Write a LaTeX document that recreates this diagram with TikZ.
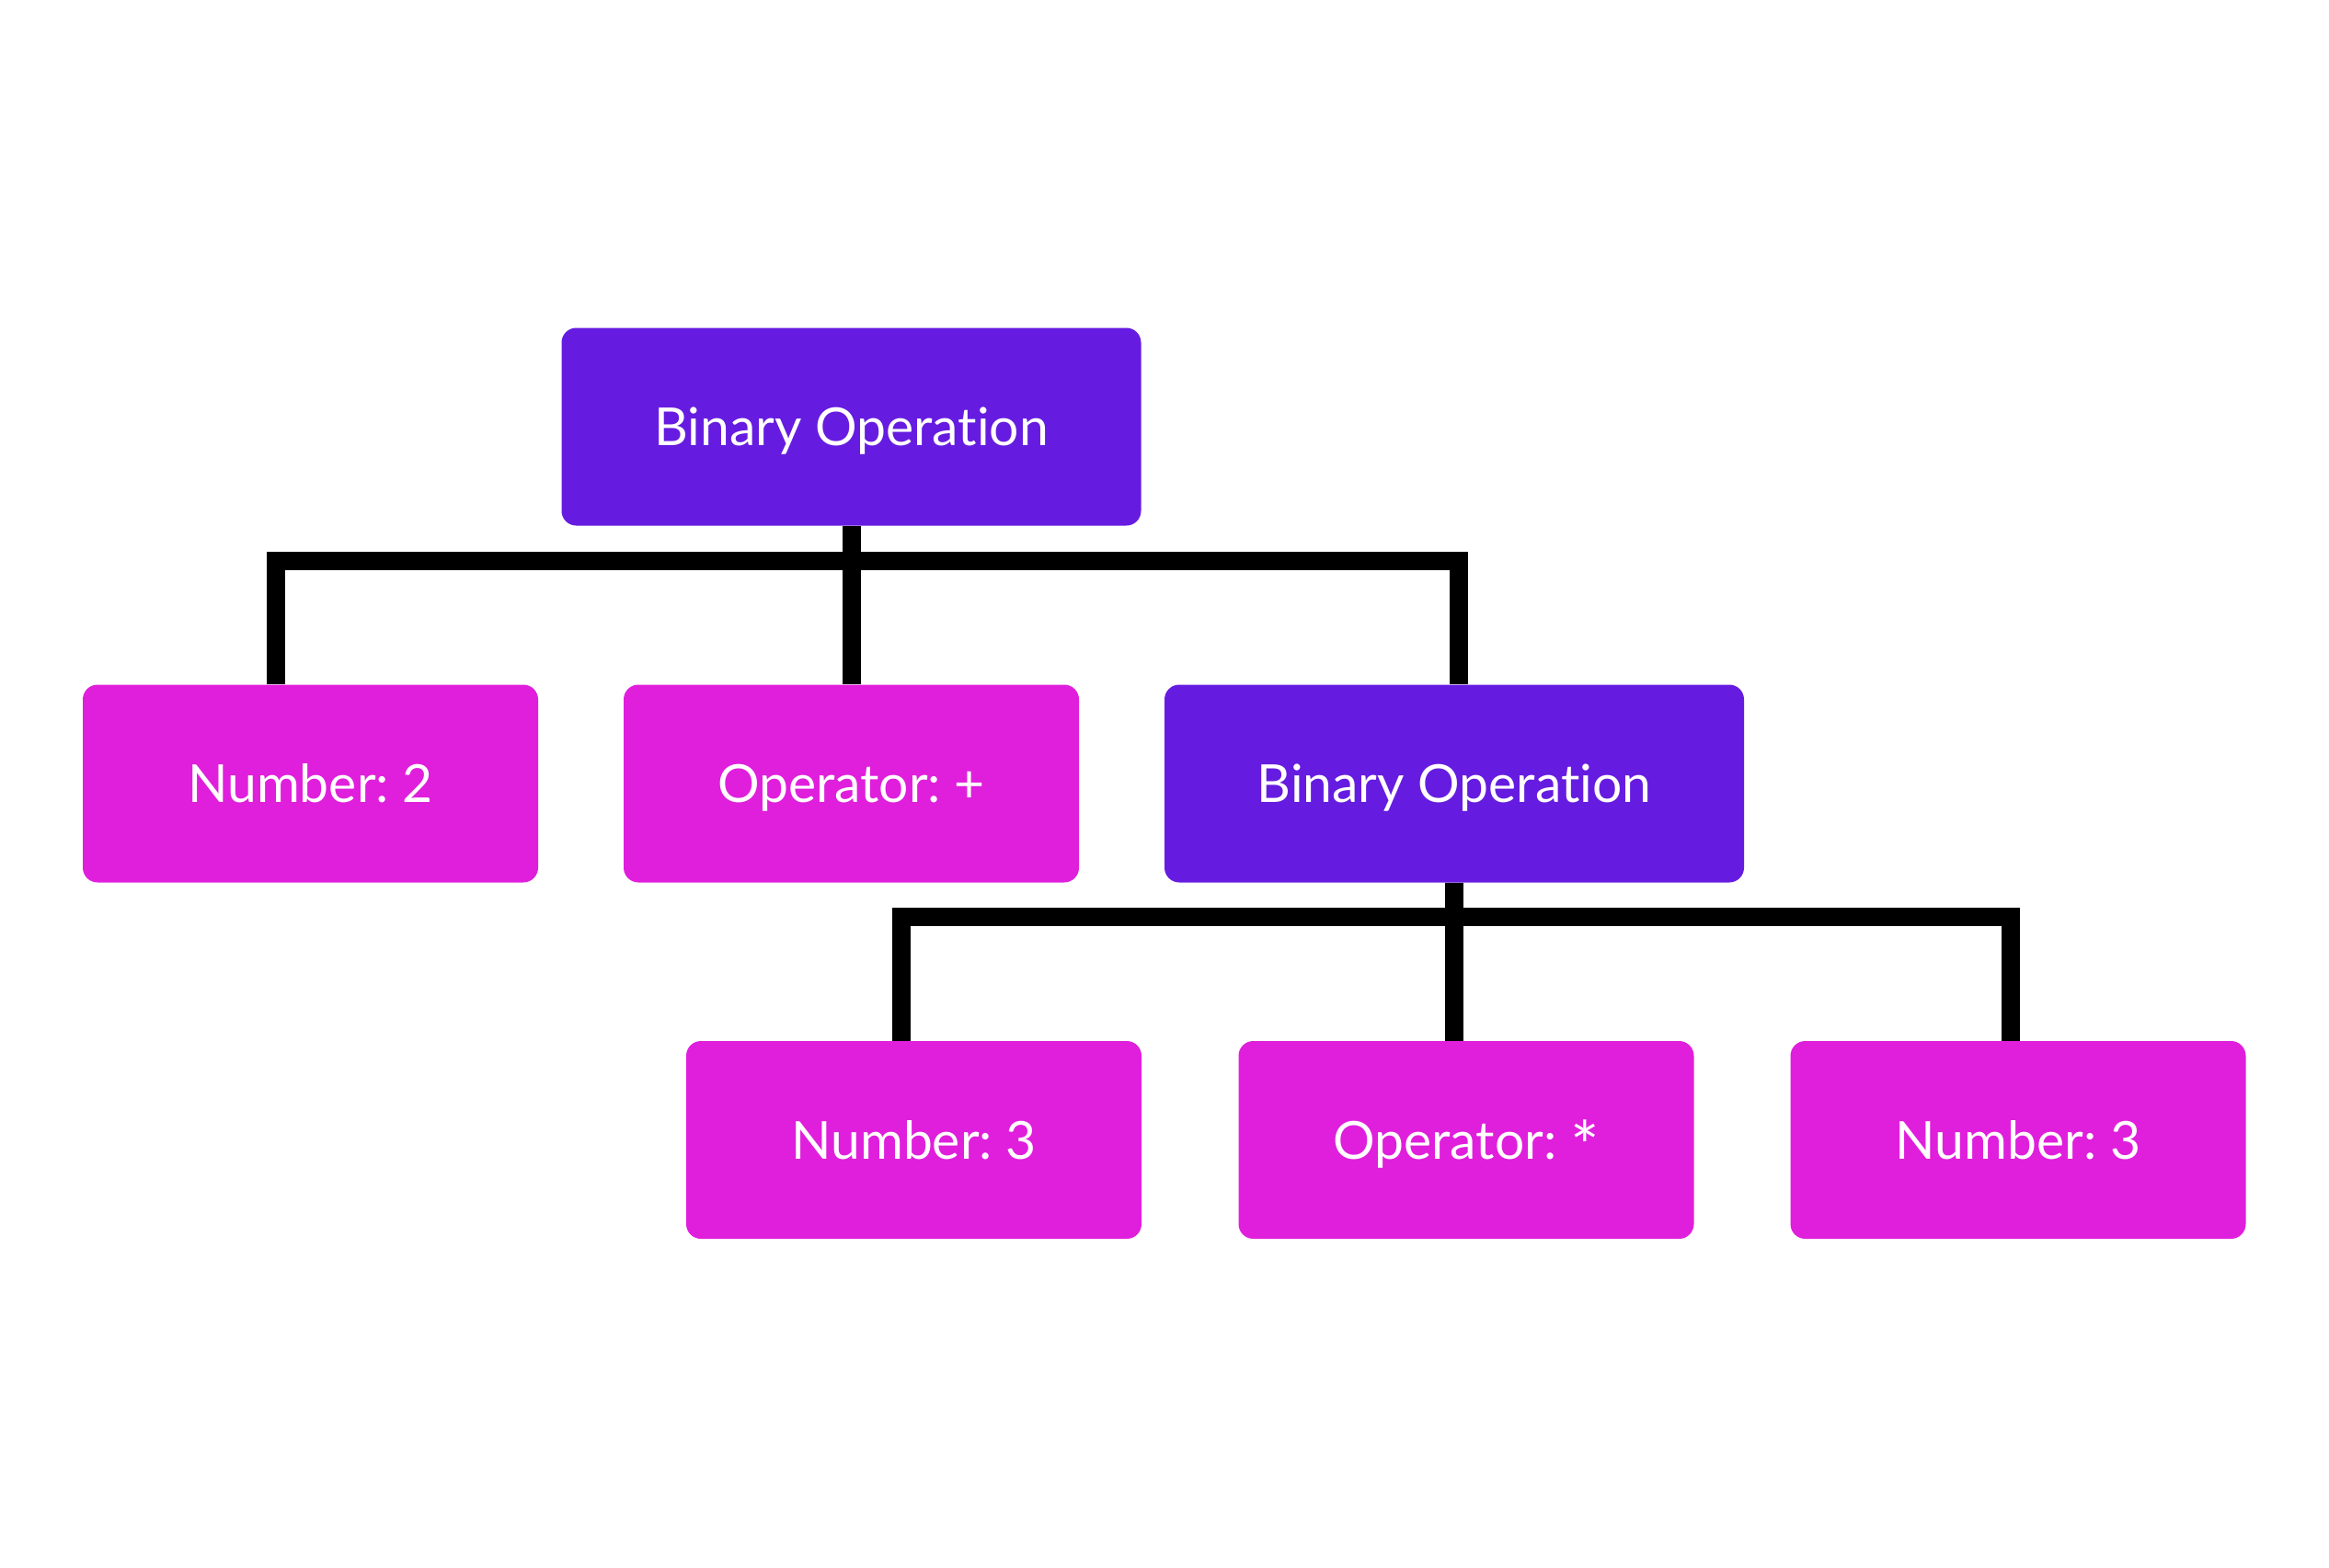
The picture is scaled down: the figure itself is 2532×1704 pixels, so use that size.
\documentclass[tikz,border=0pt]{standalone}
\usepackage{fontspec}
\setmainfont{Lato}[Ligatures={NoCommon}]
\definecolor{binop}{RGB}{102,28,224}
\definecolor{leaf}{RGB}{224,31,220}
\newcommand{\midast}{\raisebox{-0.45ex}{\scalebox{1.3}{*}}}
\begin{document}
\begin{tikzpicture}[x=0.5pt,y=-0.5pt,
  box/.style={rectangle,rounded corners=8pt,inner sep=0pt,text=white,
    font=\fontsize{28.5}{34}\selectfont,minimum height=107.5pt,
    text height=20.5pt,text depth=0pt},
  opbox/.style={box,fill=binop,minimum width=315pt},
  leafbox/.style={box,fill=leaf,minimum width=247.5pt},
  conn/.style={draw=black,line width=10pt,line join=miter,line cap=butt}]
\useasboundingbox[fill=white] (0,0) rectangle (2532,1704);
\node[opbox] (b1) at (925.5,464) {Binary Operation};
\node[leafbox] (n2) at (337.5,852) {Number:\kern-0.08em{} 2};
\node[leafbox] (o1) at (925.5,852) {Operator:\kern-0.08em{} +};
\node[opbox] (b2) at (1581,852) {Binary Operation};
\node[leafbox] (n3a) at (993.5,1239.5) {Number:\kern-0.08em{} 3};
\node[leafbox] (o2) at (1594,1239.5) {Operator:\kern-0.08em{} \midast};
\node[leafbox] (n3b) at (2194,1239.5) {Number:\kern-0.08em{} 3};
\coordinate (busAL) at (300,609.5);
\coordinate (busAR) at (1586,609.5);
\coordinate (busBL) at (980,997);
\coordinate (busBR) at (2186,997);
\draw[conn] (busAL |- n2.north) -- (busAL) -- (busAR) -- (busAR |- b2.north);
\draw[conn] (b1.south) -- (b1.south |- o1.north);
\draw[conn] (busBL |- n3a.north) -- (busBL) -- (busBR) -- (busBR |- n3b.north);
\draw[conn] (b2.south) -- (b2.south |- o2.north);
\end{tikzpicture}
\end{document}
